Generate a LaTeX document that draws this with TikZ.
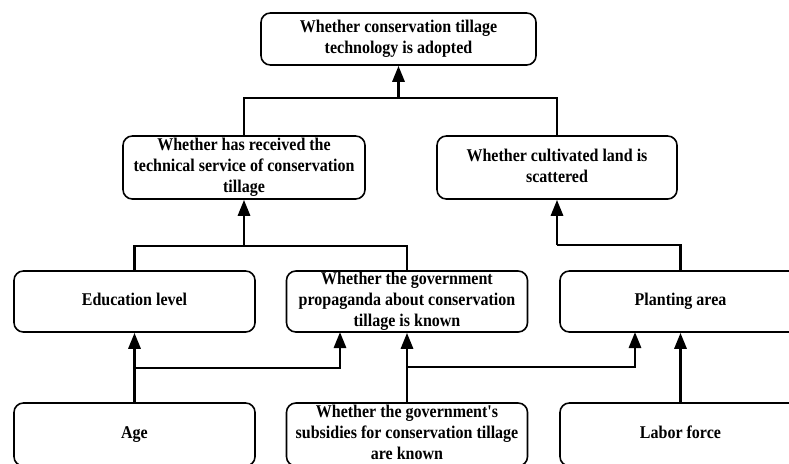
\documentclass[tikz,border=0pt]{standalone}
\usepackage{fontspec}
\setmainfont{Liberation Serif}[Ligatures=TeXOff]
\usetikzlibrary{arrows.meta}
\newcommand{\vtxt}[1]{\scalebox{1}[1.12]{\begin{tabular}{@{}c@{}}#1\end{tabular}}}
\begin{document}
\begin{tikzpicture}[x=0.75pt,y=-0.75pt,
  box/.style={draw, line width=1.2pt, rounded corners=7pt, inner sep=0pt, fill=white},
  txt/.style={font=\bfseries\fontsize{12}{14.2}\selectfont, inner sep=0pt},
  wire/.style={line width=2.2pt},
  arr/.style={wire, -{Triangle[width=9pt,length=12pt]}}]
\clip (0,0) rectangle (789,464);
\fill[white] (0,0) rectangle (789,464);
% boxes
\node[box, minimum width=206.25pt, minimum height=39pt] (top) at (398.5,39) {};
\node[box, minimum width=181.5pt, minimum height=47.25pt] (recv) at (244,167.5) {};
\node[box, minimum width=180pt, minimum height=47.25pt] (scat) at (557,167.5) {};
\node[box, minimum width=180.75pt, minimum height=45.75pt] (edu) at (134.5,301.5) {};
\node[box, minimum width=180.75pt, minimum height=45.75pt] (prop) at (407,301.5) {};
\node[box, minimum width=180.75pt, minimum height=45.75pt] (plant) at (680.5,301.5) {};
\node[box, minimum width=180.75pt, minimum height=47.25pt] (age) at (134.5,434.5) {};
\node[box, minimum width=180.75pt, minimum height=47.25pt] (sub) at (407,434.5) {};
\node[box, minimum width=180.75pt, minimum height=47.25pt] (lab) at (680.5,434.5) {};
% texts
\node[txt] (topt) at (top.center) {\vtxt{Whether conservation tillage\\technology is adopted}};
\node[txt] (recvt) at (recv.center) {\vtxt{Whether has received the\\technical service of conservation\\tillage}};
\node[txt] (scatt) at (scat.center) {\vtxt{Whether cultivated land is\\scattered}};
\node[txt] (edut) at (edu.center) {\vtxt{Education level}};
\node[txt] (propt) at (prop.center) {\vtxt{Whether the government\\propaganda about conservation\\tillage is known}};
\node[txt] (plantt) at (plant.center) {\vtxt{Planting area}};
\node[txt] (aget) at (age.center) {\vtxt{Age}};
\node[txt] (subt) at (sub.center) {\vtxt{Whether the government's\\subsidies for conservation tillage\\are known}};
\node[txt] (labt) at (lab.center) {\vtxt{Labor force}};
% junctions
\coordinate (j1) at (398.5,98);
\coordinate (j2) at (244,246);
\coordinate (j3) at (557,245);
\coordinate (j4) at (134.5,368);
\coordinate (j5) at (407,367);
\coordinate (pin1) at (340,332);
\coordinate (pin2) at (635,332);
% connectors
\draw[wire] (recv.north) |- (j1) -| (scat.north);
\draw[arr] (j1) -- (top.south);
\draw[wire] (edu.north) |- (j2) -| (prop.north);
\draw[arr] (j2) -- (recv.south);
\draw[wire] (plant.north) |- (j3);
\draw[arr] (j3) -- (scat.south);
\draw[arr] (age.north) -- (edu.south);
\draw[arr] (j4) -| (pin1);
\draw[arr] (sub.north) -- (prop.south);
\draw[arr] (j5) -| (pin2);
\draw[arr] (lab.north) -- (plant.south);
\end{tikzpicture}
\end{document}
